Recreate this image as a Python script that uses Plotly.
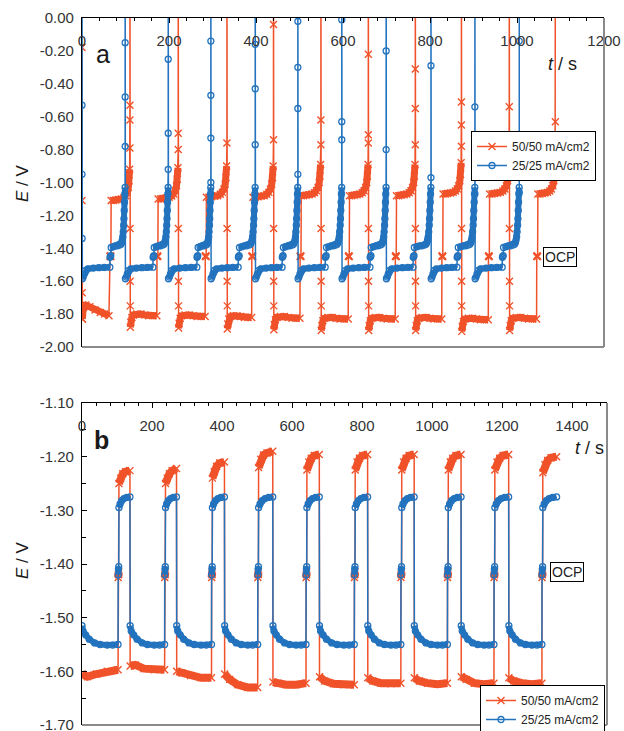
import plotly.graph_objects as go

ORANGE = '#F0522A'
BLUE = '#2373BE'

# ---------------- Panel a ----------------
# 50/50 mA/cm2 (orange): cycle times (s) and plateau levels (V)
a_o_dis_start = [0, 110, 221, 333, 440, 549, 658, 766, 872, 982]
a_o_ocp = [64, 172, 283, 390, 501, 612, 720, 827, 934, 1045]
a_o_spike = [110, 221, 333, 440, 549, 658, 766, 872, 982, 1088]
a_o_dis_level = [-1.81, -1.81, -1.815, -1.82, -1.825, -1.83, -1.83, -1.83, -1.835, -1.83]
a_o_chg_level = [-1.11, -1.10, -1.09, -1.09, -1.08, -1.08, -1.08, -1.07, -1.07, -1.07]
a_o_first_dt = [0, 0, 0.4, 0.8, 3, 9, 18, 30, 42, 52, 62]
a_o_first_E = [-0.18, -1.11, -1.67, -1.83, -1.76, -1.745, -1.755, -1.775, -1.79, -1.80, -1.81]
a_o_dis_frac = [0, 0.02, 0.06, 0.12, 0.25, 0.4, 0.55, 0.7, 0.85, 1.0]
a_o_dis_dv = [-0.07, -0.04, -0.01, 0.005, 0.01, 0.01, 0.005, 0.0, 0.0, 0.0]
a_o_chg_frac = [0, 0.12, 0.25, 0.4, 0.55, 0.68, 0.78, 0.86, 0.92, 0.96, 0.99]
a_o_chg_dv = [0, 0, 0.003, 0.006, 0.01, 0.018, 0.03, 0.05, 0.08, 0.12, 0.19]
a_o_spike_pts = [
    [-0.79, -0.62, -0.53], [-0.80, -0.70], [-0.76], [-0.74, -0.04], [-0.77, -0.62],
    [-0.76, -0.71, -0.22], [-0.77, -0.55, -0.31], [-0.78, -0.65, -0.51], [-0.54], [-0.63],
]
a_o_spike_top = 0.5
a_o_spike_down = [-1.28, -1.6, -1.75]
a_o_ocp_E = [-1.45, -1.445, -1.45]

# 25/25 mA/cm2 (blue)
a_b_dis_start = [0, 99, 198, 296, 398, 496, 597, 699, 802, 903]
a_b_ocp = [64, 163, 264, 359, 460, 559, 662, 761, 862, 966]
a_b_spike = [99, 198, 296, 398, 496, 597, 699, 802, 903, 1005]
a_b_first_E = [0.5, -0.53, -0.95, -1.34]
a_b_dis_frac = [0, 0.03, 0.07, 0.12, 0.2, 0.4, 0.6, 0.8, 1.0]
a_b_dis_E = [-1.585, -1.575, -1.555, -1.535, -1.525, -1.52, -1.518, -1.516, -1.515]
a_b_chg_frac = [0, 0.15, 0.3, 0.45, 0.6, 0.7, 0.76, 0.8, 0.84, 0.87, 0.9, 0.92, 0.94, 0.96, 0.98, 1.0]
a_b_chg_E = [-1.395, -1.39, -1.385, -1.385, -1.38, -1.375, -1.365, -1.35, -1.33, -1.30,
             -1.26, -1.22, -1.17, -1.12, -1.07, -1.03]
a_b_spike_pts = [
    [-0.78, -0.48, -0.15], [-0.92, -0.70, -0.25], [-1.0, -0.73, -0.47, -0.14],
    [-0.77, -0.43, -0.16], [-0.95, -0.55, -0.30, -0.02], [-0.74, -0.63, -0.01],
    [-0.80, -0.2], [-0.97, -0.29], [-1.07, -0.77, -0.54], [-1.06, -0.14],
]
a_b_spike_top = 0.5
a_b_ocp_E = [-1.455, -1.45, -1.445]

# ---------------- Panel b ----------------
b_up = [103, 236, 370, 502, 640, 778, 911, 1044, 1177, 1314]
b_down = [137, 270, 407, 545, 678, 816, 949, 1083, 1219, 1356]
b_low_frac = [0, 0.15, 0.4, 0.7, 1.0]
b_o_low = [
    [-1.605, -1.61, -1.605, -1.60, -1.597],
    [-1.59, -1.588, -1.595, -1.597, -1.597],
    [-1.60, -1.603, -1.608, -1.612, -1.612],
    [-1.605, -1.615, -1.625, -1.63, -1.63],
    [-1.62, -1.622, -1.625, -1.625, -1.622],
    [-1.61, -1.618, -1.623, -1.625, -1.625],
    [-1.612, -1.618, -1.622, -1.623, -1.622],
    [-1.612, -1.618, -1.622, -1.624, -1.622],
    [-1.61, -1.615, -1.622, -1.624, -1.622],
    [-1.612, -1.618, -1.622, -1.624, -1.622],
]
b_top_frac = [0, 0.15, 0.35, 0.6, 1.0]
b_o_top = [
    [-1.25, -1.24, -1.232, -1.228, -1.226],
    [-1.25, -1.24, -1.232, -1.226, -1.222],
    [-1.24, -1.228, -1.218, -1.212, -1.21],
    [-1.22, -1.205, -1.197, -1.193, -1.19],
    [-1.225, -1.21, -1.203, -1.198, -1.196],
    [-1.225, -1.21, -1.203, -1.198, -1.196],
    [-1.225, -1.21, -1.203, -1.198, -1.196],
    [-1.225, -1.21, -1.203, -1.198, -1.196],
    [-1.225, -1.21, -1.203, -1.198, -1.196],
    [-1.23, -1.215, -1.207, -1.202, -1.20],
]
b_b_low_frac = [0, 0.03, 0.1, 0.2, 0.35, 0.5, 0.7, 0.85, 1.0]
b_b_low_E = [-1.515, -1.525, -1.532, -1.54, -1.547, -1.55, -1.551, -1.551, -1.55]
b_b_top_frac = [0, 0.1, 0.25, 0.45, 0.7, 1.0]
b_b_top_E = [-1.295, -1.288, -1.282, -1.278, -1.276, -1.275]
b_o_ocp_E = [-1.425, -1.42, -1.415]
b_b_ocp_E = [-1.42, -1.41, -1.405]

# tick labels
a_xticks = [0, 200, 400, 600, 800, 1000, 1200]
a_xtext = ['0', '200', '400', '600', '800', '1000', '1200']
b_xticks = [0, 200, 400, 600, 800, 1000, 1200, 1400]
b_xtext = ['0', '200', '400', '600', '800', '1000', '1200', '1400']
a_yticks = [0, -0.2, -0.4, -0.6, -0.8, -1.0, -1.2, -1.4, -1.6, -1.8, -2.0]
a_ytext = ['0.00', '-0.20', '-0.40', '-0.60', '-0.80', '-1.00', '-1.20', '-1.40', '-1.60', '-1.80', '-2.00']
b_yticks = [-1.1, -1.2, -1.3, -1.4, -1.5, -1.6, -1.7]
b_ytext = ['-1.10', '-1.20', '-1.30', '-1.40', '-1.50', '-1.60', '-1.70']


def stretch(t0, t1, fracs, vals):
    return [t0 + f * (t1 - t0) for f in fracs], list(vals)


class Series:
    def __init__(self):
        self.t, self.e = [], []
        self.bt, self.be = [], []

    def add(self, ts, es, band=False):
        self.t += ts
        self.e += es
        if band:
            self.bt += ts + [None]
            self.be += es + [None]


# panel a orange
ao = Series()
for k in range(10):
    td, to, S = a_o_dis_start[k], a_o_ocp[k], a_o_spike[k]
    if k == 0:
        ao.add([td + d for d in a_o_first_dt[:4]], a_o_first_E[:4])
        ao.add([td + d for d in a_o_first_dt[3:]], a_o_first_E[3:], band=True)
    else:
        ts, es = stretch(td + 1, to, a_o_dis_frac, [a_o_dis_level[k] + d for d in a_o_dis_dv])
        ao.add(ts, es, band=True)
    ao.add([to + 0.4, to + 1.4, to + 2.4], a_o_ocp_E, band=True)
    ts, es = stretch(to + 3, S, a_o_chg_frac, [a_o_chg_level[k] + d for d in a_o_chg_dv])
    ao.add(ts, es, band=True)
    up = a_o_spike_pts[k] + [a_o_spike_top]
    ao.add([S + 0.2] * len(up), up)
    if k < 9:
        ao.add([S + 0.5, S + 0.7, S + 0.9], a_o_spike_down)

# panel a blue
ab = Series()
for k in range(10):
    td, to, S = a_b_dis_start[k], a_b_ocp[k], a_b_spike[k]
    if k == 0:
        ab.add([0, 0, 0, 0.3], a_b_first_E)
    ts, es = stretch(td + 0.8, to, a_b_dis_frac, a_b_dis_E)
    ab.add(ts, es, band=True)
    ab.add([to + 0.4, to + 1.3, to + 2.2], a_b_ocp_E, band=True)
    ts, es = stretch(to + 3, S, a_b_chg_frac, a_b_chg_E)
    ab.add(ts, es, band=True)
    up = a_b_spike_pts[k] + [a_b_spike_top]
    ab.add([S + 0.2] * len(up), up)

# panel b orange / blue
bo = Series()
bb = Series()
for k in range(10):
    t0 = 0 if k == 0 else b_down[k - 1] + 0.6
    ts, es = stretch(t0, b_up[k], b_low_frac, b_o_low[k])
    bo.add(ts, es, band=True)
    bo.add([b_up[k] + 0.4, b_up[k] + 1.2, b_up[k] + 2.0], b_o_ocp_E, band=True)
    ts, es = stretch(b_up[k] + 2.6, b_down[k], b_top_frac, b_o_top[k])
    bo.add(ts, es, band=True)

    ts, es = stretch(t0, b_up[k], b_b_low_frac, b_b_low_E)
    bb.add(ts, es, band=True)
    bb.add([b_up[k] + 0.4, b_up[k] + 1.2, b_up[k] + 2.0], b_b_ocp_E, band=True)
    ts, es = stretch(b_up[k] + 2.6, b_down[k], b_b_top_frac, b_b_top_E)
    bb.add(ts, es, band=True)

fig = go.Figure()

O_MARK = dict(symbol='x-thin-open', size=7, color=ORANGE, line=dict(color=ORANGE, width=1.4))
B_MARK = dict(symbol='circle-open', size=6, color=BLUE, line=dict(color=BLUE, width=1.3))


def add_series(s, color, mark, name, xa, ya, legend, bw):
    fig.add_trace(go.Scatter(x=s.bt, y=s.be, mode='lines', xaxis=xa, yaxis=ya,
                             line=dict(color=color, width=bw), showlegend=False,
                             hoverinfo='skip', connectgaps=False))
    fig.add_trace(go.Scatter(x=s.t, y=s.e, mode='lines+markers', name=name, xaxis=xa, yaxis=ya,
                             line=dict(color=color, width=1.5), marker=mark, legend=legend,
                             cliponaxis=True))


add_series(ao, ORANGE, O_MARK, '50/50 mA/cm2', 'x', 'y', 'legend', 7)
add_series(ab, BLUE, B_MARK, '25/25 mA/cm2', 'x', 'y', 'legend', 6)
add_series(bo, ORANGE, O_MARK, '50/50 mA/cm2', 'x2', 'y2', 'legend2', 8)
add_series(bb, BLUE, B_MARK, '25/25 mA/cm2', 'x2', 'y2', 'legend2', 6)
# empty traces so the label axes are drawn
fig.add_trace(go.Scatter(x=[], y=[], xaxis='x3', yaxis='y', showlegend=False))
fig.add_trace(go.Scatter(x=[], y=[], xaxis='x4', yaxis='y2', showlegend=False))

W, H = 624, 731


def px_x(p):
    return p / W


def px_y(p):
    return 1 - p / H


TICKFONT = dict(family='Arial, Liberation Sans, sans-serif', size=15, color='#333333')

common_x = dict(showgrid=False, zeroline=False, showline=True, linecolor='black', linewidth=1.2,
                side='top', ticks='inside', ticklen=5, tickcolor='black', tickmode='array',
                showticklabels=False, automargin=False,
                minor=dict(tickmode='linear', tick0=0, dtick=40, ticks='inside', ticklen=3,
                           tickcolor='black'))

fig.update_layout(
    width=W, height=H, margin=dict(l=0, r=0, t=0, b=0, autoexpand=False),
    plot_bgcolor='white', paper_bgcolor='white',
    font=TICKFONT,
    xaxis=dict(common_x, domain=[px_x(82), px_x(604)], range=[0, 1200], anchor='y',
               tickvals=a_xticks),
    yaxis=dict(domain=[px_y(347), px_y(18)], range=[-2.0, 0.0], anchor='x', showgrid=False,
               zeroline=False, showline=True, linecolor='black', linewidth=1.2, ticks='',
               tickmode='array', tickvals=a_yticks, ticktext=a_ytext, tickfont=TICKFONT,
               ticklabelstandoff=4, automargin=False, ticklabeloverflow='allow'),
    xaxis2=dict(common_x, domain=[px_x(82), px_x(607)], range=[0, 1500], anchor='y2',
                tickvals=b_xticks),
    yaxis2=dict(domain=[px_y(725), px_y(403)], range=[-1.7, -1.1], anchor='x2', showgrid=False,
                zeroline=False, showline=True, linecolor='black', linewidth=1.2, ticks='inside',
                ticklen=5, tickcolor='black', tickmode='array', tickvals=b_yticks,
                ticktext=b_ytext, tickfont=TICKFONT, ticklabelstandoff=4, automargin=False,
                ticklabeloverflow='allow',
                minor=dict(tickmode='linear', tick0=-1.1, dtick=0.05, ticks='inside',
                           ticklen=4, tickcolor='black')),
    xaxis3=dict(overlaying='x', anchor='free', position=px_y(30), side='bottom', range=[0, 1200],
                showgrid=False, zeroline=False, showline=False, ticks='', tickmode='array',
                tickvals=a_xticks, ticktext=a_xtext, tickfont=TICKFONT, automargin=False,
                ticklabeloverflow='allow'),
    xaxis4=dict(overlaying='x2', anchor='free', position=px_y(415), side='bottom', range=[0, 1500],
                showgrid=False, zeroline=False, showline=False, ticks='', tickmode='array',
                tickvals=b_xticks, ticktext=b_xtext, tickfont=TICKFONT, automargin=False,
                ticklabeloverflow='allow'),
    legend=dict(x=px_x(596), y=px_y(131), xanchor='right', yanchor='top', bgcolor='white',
                bordercolor='black', borderwidth=1, font=dict(size=12, color='#222222'),
                itemwidth=30, tracegroupgap=0),
    legend2=dict(x=px_x(605), y=px_y(685), xanchor='right', yanchor='top', bgcolor='white',
                 bordercolor='black', borderwidth=1, font=dict(size=12, color='#222222'),
                 itemwidth=30, tracegroupgap=0),
)

shapes = []
for xr, yr in (('x domain', 'y domain'), ('x2 domain', 'y2 domain')):
    shapes.append(dict(type='line', xref=xr, yref=yr, x0=1, x1=1, y0=0, y1=1,
                       line=dict(color='#8a8a8a', width=2)))
    shapes.append(dict(type='line', xref=xr, yref=yr, x0=0, x1=1, y0=0, y1=0,
                       line=dict(color='#8a8a8a', width=2)))
fig.update_layout(shapes=shapes)


def txt(text, x, y, size, **kw):
    d = dict(text=text, x=px_x(x), y=px_y(y), xref='paper', yref='paper', showarrow=False,
             xanchor='center', yanchor='middle', font=dict(size=size, color='#1a1a1a'))
    d.update(kw)
    return d


ann = [
    txt('a', 103, 54, 25),
    txt('<b>b</b>', 101, 440, 25),
    txt('<i>t</i> / s', 562, 64, 18),
    txt('<i>t</i> / s', 589, 448, 18),
    txt('<i>E</i> / V', 22, 183, 17, textangle=-90),
    txt('<i>E</i> / V', 22, 560, 17, textangle=-90),
    dict(text='OCP', x=1099, y=-1.45, xref='x', yref='y', showarrow=False, bgcolor='white',
         xanchor='center', yanchor='middle',
         bordercolor='black', borderwidth=1, borderpad=1, font=dict(size=14, color='#222222')),
    dict(text='OCP', x=1386, y=-1.415, xref='x2', yref='y2', showarrow=False, bgcolor='white',
         xanchor='center', yanchor='middle',
         bordercolor='black', borderwidth=1, borderpad=1, font=dict(size=14, color='#222222')),
]
fig.update_layout(annotations=ann)

fig.write_html('out.html', config={'displayModeBar': False},
               post_script="document.body.style.margin='0';document.body.style.overflow='hidden';")
